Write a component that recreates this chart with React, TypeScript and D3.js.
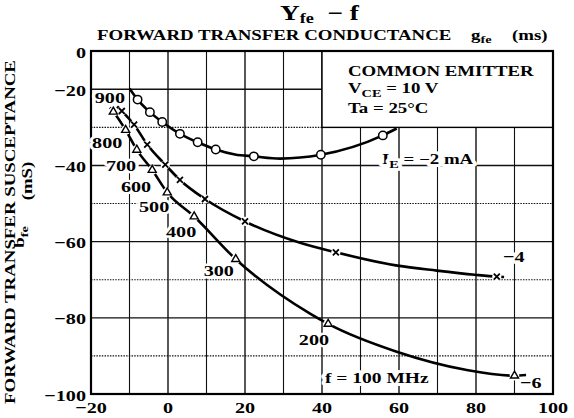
import React from 'react';
import * as d3 from 'd3';

// Yfe - f : forward transfer admittance, common emitter
const freqs = [900, 800, 700, 600, 500, 400, 300, 200, 100];

// [gfe, bfe] at each frequency (900 -> 100 MHz)
const ie2Points = [[-7.9, -22.7], [-4.7, -26.0], [-1.5, -28.6], [3.1, -31.7], [7.7, -33.9], [12.4, -35.8], [22.3, -37.6], [39.7, -37.2], [55.8, -32.1]];
const ie4Points = [[-12.0, -25.7], [-8.8, -29.3], [-5.4, -34.5], [-0.7, -39.8], [3.1, -43.8], [9.6, -48.8], [20.0, -54.7], [43.6, -62.8], [85.4, -69.2]];
const ie6Points = [[-14.2, -25.9], [-11.0, -30.7], [-8.1, -35.9], [-4.1, -41.2], [-0.2, -47.1], [6.8, -53.4], [17.6, -64.6], [41.6, -81.6], [90.0, -95.2]];

// extra points (no marker)
const ie2Trace = [[-10.0, -19.6], [17.4, -37.1], [29.1, -38.2], [59.4, -30.3]];
const ie4Trace = [[-13.2, -24.5], [34.3, -60.3], [59.6, -66.3], [69.8, -67.6], [79.7, -68.7], [87.3, -69.3]];
const ie6Trace = [[-15.1, -24.8], [36.9, -78.9], [59.4, -88.9], [77.6, -93.7], [93.0, -95.0]];

// where the frequency labels sit, in gfe / bfe units
const freqLabelAt = [[-15.1, -23.7], [-15.8, -35.5], [-12.2, -41.4], [-8.3, -46.9], [-3.6, -52.1], [3.4, -58.8], [13.2, -69.0], [37.9, -87.1]];

const xTicks = [-20, 0, 20, 40, 60, 80, 100];
const yTicks = [0, -20, -40, -60, -80, -100];

const W = 574;
const H = 418;
const SX = 1.3;
const FONT = "'Liberation Serif', 'Times New Roman', serif";

const x = d3.scaleLinear().domain([-20, 100]).range([91, 553]);
// the top band (0 .. -20) is drawn compressed in the original sheet
const y = d3.scaleLinear().domain([0, -20, -100]).range([51, 89.3, 394]);

const line = d3.line().x(d => x(d[0])).y(d => y(d[1])).curve(d3.curveMonotoneX);
const tri = d3.symbol().type(d3.symbolTriangle).size(28)();

const Txt = ({ x, y, size = 14.5, anchor = 'start', halo = 0, rotate = 0, children }) => {
  const tf = `translate(${x},${y})${rotate ? ` rotate(${rotate})` : ''} scale(${SX},1)`;
  return <text transform={tf} fontSize={size} textAnchor={anchor} fontFamily={FONT} fontWeight="bold"
    fill="#000" stroke={halo ? '#fff' : 'none'} strokeWidth={halo} strokeLinejoin="round"
    paintOrder="stroke" style={{ whiteSpace: 'pre' }}>{children}</text>;
};

const curvePath = (pts, trace) => line([...pts, ...trace].sort((a, b) => a[0] - b[0]));

export default function App() {
  const minor = d3.range(-10, 100, 10);
  const hLines = d3.range(-20, -100, -10);

  return (
    <svg width={W} height={H} style={{ position: 'absolute', left: 0, top: 0, background: '#fff' }}>
      <rect width={W} height={H} fill="#fff" />

      {/* grid */}
      {minor.map(v => (
        <line key={'v' + v} x1={x(v)} x2={x(v)} y1={y(0)} y2={y(-100)} stroke="#111" strokeWidth={v % 20 === 0 ? 1.4 : 1.1} />
      ))}
      {hLines.map(v => (
        <line key={'h' + v} x1={x(-20)} x2={x(100)} y1={y(v)} y2={y(v)} stroke="#111"
          strokeWidth={v % 20 === 0 ? 1.4 : 1.1} strokeDasharray={v % 20 === 0 ? null : '1.5,1.2'} />
      ))}

      {/* condition box */}
      <rect x={x(40)} y={y(0)} width={x(100) - x(40)} height={y(-30) - y(0)} fill="#fff" stroke="#000" strokeWidth={1.4} />
      <Txt x={348} y={76}>COMMON EMITTER</Txt>
      <Txt x={348} y={93}>V<tspan fontSize={11} dy={4}>CE</tspan><tspan dy={-4}> = 10 V</tspan></Txt>
      <Txt x={348} y={113}>Ta = 25°C</Txt>

      {/* frame */}
      <rect x={x(-20)} y={y(0)} width={x(100) - x(-20)} height={y(-100) - y(0)} fill="none" stroke="#000" strokeWidth={2.2} />

      {/* curves */}
      <path d={curvePath(ie2Points, ie2Trace)} fill="none" stroke="#000" strokeWidth={2.6} />
      <path d={curvePath(ie4Points, ie4Trace)} fill="none" stroke="#000" strokeWidth={2.6} />
      <path d={curvePath(ie6Points, ie6Trace)} fill="none" stroke="#000" strokeWidth={2.6} />

      {ie2Points.map((d, i) => (
        <circle key={'c' + i} cx={x(d[0])} cy={y(d[1])} r={4.2} fill="#fff" stroke="#000" strokeWidth={1.5} />
      ))}
      {ie4Points.map((d, i) => (
        <g key={'x' + i} transform={`translate(${x(d[0])},${y(d[1])})`}>
          <circle r={4.6} fill="#fff" />
          <path d="M-3,-3L3,3M-3,3L3,-3" stroke="#000" strokeWidth={1.8} />
        </g>
      ))}
      {ie6Points.map((d, i) => (
        <g key={'t' + i} transform={`translate(${x(d[0])},${y(d[1])})`}>
          <circle r={4.8} fill="#fff" />
          <path d={tri} fill="#fff" stroke="#000" strokeWidth={1.4} />
        </g>
      ))}

      {/* frequency labels */}
      {freqLabelAt.map((d, i) => (
        <Txt key={'f' + i} x={x(d[0])} y={y(d[1])} size={15.5} anchor="middle" halo={5}>{String(freqs[i])}</Txt>
      ))}
      <Txt x={325} y={383} size={15} halo={6}>f = 100 MHz</Txt>
      <Txt x={382} y={164} halo={6}>I<tspan fontSize={11} dy={4}>E</tspan><tspan dy={-4}> = −2 mA</tspan></Txt>
      <Txt x={503} y={262} size={15.5} halo={7}>−4</Txt>
      <Txt x={520} y={388} size={15.5} halo={5}>−6</Txt>

      {/* axes labels */}
      {xTicks.map(v => (
        <Txt key={'xt' + v} x={x(v)} y={413} size={15.5} anchor="middle">{v < 0 ? '−' + Math.abs(v) : String(v)}</Txt>
      ))}
      {yTicks.map(v => (
        <Txt key={'yt' + v} x={86} y={y(v) + 6.5} size={15.5} anchor="end">{v < 0 ? '−' + Math.abs(v) : String(v)}</Txt>
      ))}

      {/* titles */}
      <Txt x={280} y={20} size={21}>Y<tspan fontSize={14} dy={3}>fe</tspan><tspan dy={-3}>  − f</tspan></Txt>
      <Txt x={97} y={40}>FORWARD TRANSFER CONDUCTANCE</Txt>
      <Txt x={471} y={40}>g<tspan fontSize={11} dy={3}>fe</tspan></Txt>
      <Txt x={512} y={40}>(ms)</Txt>

      <Txt x={15} y={232} anchor="middle" rotate={-90}>FORWARD TRANSFER SUSCEPTANCE</Txt>
      <Txt x={24} y={237} anchor="middle" rotate={-90}>b<tspan fontSize={11} dy={4}>fe</tspan></Txt>
      <Txt x={32} y={181} anchor="middle" rotate={-90}>(mS)</Txt>
    </svg>
  );
}
